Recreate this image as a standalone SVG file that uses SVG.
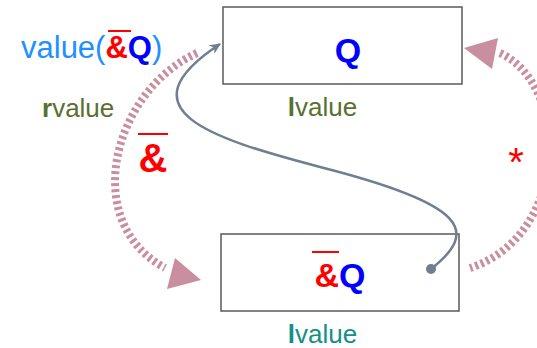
<svg xmlns="http://www.w3.org/2000/svg" width="537" height="348" viewBox="0 0 537 348">
<style>
text{font-family:"Liberation Sans",Arial,sans-serif}
.box{fill:#fff;stroke:#5a5a5a;stroke-width:1.5}
.arc{fill:none;stroke:#c98e9f;stroke-width:8;stroke-dasharray:3 3}
.head{fill:#c98e9f}
.ptr{fill:none;stroke:#6e7f91;stroke-width:2.5}
.ov{stroke:#ff0000;stroke-width:2}
.red{fill:#ff0000}
.blue{fill:#0000ff}
.b{font-weight:bold}
</style>
<defs>
<marker id="ah" markerUnits="userSpaceOnUse" markerWidth="14" markerHeight="12" refX="10" refY="5" orient="auto">
<path d="M0,0 L11,5 L0,10 L3,5 Z" fill="#6e7f91"/>
</marker>
</defs>
<g id="node-q">
<rect class="box" x="223" y="7" width="239" height="77"/>
<text class="blue b" x="348" y="62" font-size="34" text-anchor="middle">Q</text>
</g>
<g id="label-lvalue-top">
<text x="322.5" y="116" font-size="26" text-anchor="middle" fill="#5a7030"><tspan class="b">l</tspan>value</text>
</g>
<g id="node-refq">
<rect class="box" x="221" y="234" width="238" height="77"/>
<text x="340" y="287" font-size="34" text-anchor="middle" class="b"><tspan class="red">&amp;</tspan><tspan class="blue">Q</tspan></text>
<line class="ov" x1="312" y1="252" x2="339" y2="252"/>
</g>
<g id="label-lvalue-bottom">
<text x="322.5" y="343" font-size="26" text-anchor="middle" fill="#139088"><tspan class="b">l</tspan>value</text>
</g>
<g id="label-value">
<text x="21" y="58" font-size="31" fill="#1e90ff">value(<tspan class="red b">&amp;</tspan><tspan class="blue b">Q</tspan>)</text>
<line class="ov" x1="108" y1="31" x2="131" y2="31"/>
</g>
<g id="label-rvalue">
<text x="42" y="117" font-size="26" fill="#5a7030"><tspan class="b">r</tspan>value</text>
</g>
<g id="label-amp">
<text class="red b" x="153" y="172" font-size="40" text-anchor="middle">&amp;</text>
<line class="ov" x1="138" y1="134" x2="168" y2="134"/>
</g>
<g id="label-star">
<text class="red" x="516" y="176" font-size="40" text-anchor="middle">*</text>
</g>
<g id="connectors">
<path class="arc" d="M197 53 C112 92, 80 222, 165 268"/>
<polygon class="head" points="175,258 167,289 201,280"/>
<path class="arc" d="M500 53 C570 85, 570 235, 470 268"/>
<polygon class="head" points="464,48 498,38 492,69"/>
<path class="ptr" d="M431 269 C478 232, 470 205, 320 167 C210 138, 120 110, 220 44" marker-end="url(#ah)"/>
<circle cx="431" cy="269" r="5" fill="#6e7f91"/>
</g>
</svg>
